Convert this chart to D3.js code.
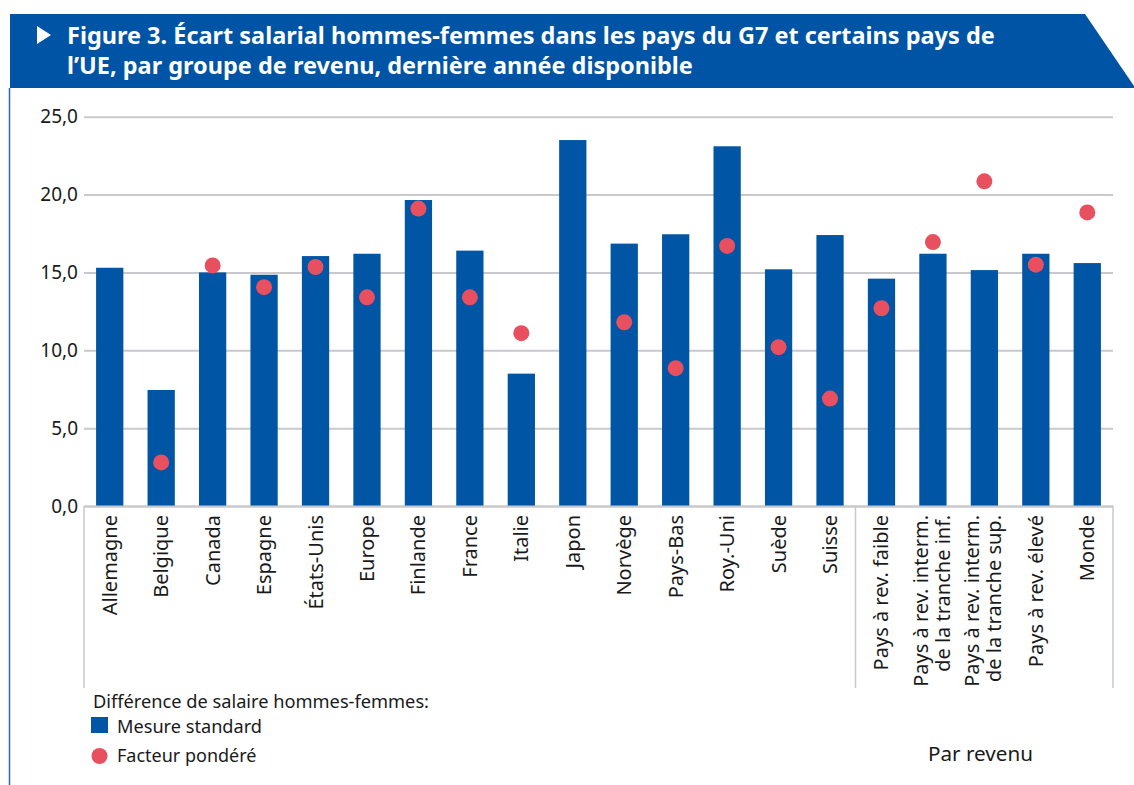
<!DOCTYPE html>
<html><head><meta charset="utf-8">
<script src="https://cdn.jsdelivr.net/npm/d3@7"></script>
<style>body{margin:0;background:#fff;}svg{display:block;font-family:"Noto Sans",sans-serif;}</style>
</head><body><svg id="c" width="1134" height="785"></svg>
<script>
const categories = ["Allemagne","Belgique","Canada","Espagne","États-Unis","Europe","Finlande","France","Italie","Japon","Norvège","Pays-Bas","Roy.-Uni","Suède","Suisse","Pays à rev. faible","Pays à rev. interm.|de la tranche inf.","Pays à rev. interm.|de la tranche sup.","Pays à rev. élevé","Monde"];
const standard = [15.3,7.45,15.0,14.85,16.05,16.2,19.65,16.4,8.5,23.5,16.85,17.45,23.1,15.2,17.4,14.6,16.2,15.15,16.2,15.6];
const weighted = [null,2.8,15.45,14.05,15.35,13.4,19.1,13.4,11.1,null,11.8,8.85,16.7,10.2,6.9,12.7,16.95,20.85,15.5,18.85];
const yTicks = [0,5,10,15,20,25];
const titleLines = ["Figure 3. Écart salarial hommes-femmes dans les pays du G7 et certains pays de","l’UE, par groupe de revenu, dernière année disponible"];
const legendTitle = "Différence de salaire hommes-femmes:";
const seriesNames = ["Mesure standard","Facteur pondéré"];
const groupLabel = "Par revenu";

const BLUE = "#0055a5", RED = "#e84f5f", GRID = "#c9c9cd", INK = "#1a1a1a";
const svg = d3.select("#c");

// header band
svg.append("path").attr("d","M10,14 L1085,14 L1134,86 L1134,88 L10,88 Z").attr("fill","#0054a5");
svg.append("path").attr("d","M37,26 L51,35 L37,44 Z").attr("fill","#fff");
svg.append("line").attr("x1",9.5).attr("x2",9.5).attr("y1",88).attr("y2",785).attr("stroke","#2d63b0").attr("stroke-width",1.5);

function fit(t, w){ const n=t.node(); const fs=parseFloat(t.attr("font-size")); const cw=n.getComputedTextLength(); t.attr("font-size", fs*w/cw); }
function squeeze(t, w){ const cw=t.node().getComputedTextLength(); if (Math.abs(cw-w)>1) t.attr("textLength",w).attr("lengthAdjust","spacingAndGlyphs"); }
const t1 = svg.append("text").attr("x",67).attr("y",44).attr("fill","#fff").attr("font-weight","bold").attr("font-size",22).text(titleLines[0]);
fit(t1, 928);
svg.append("text").attr("x",67).attr("y",74).attr("fill","#fff").attr("font-weight","bold").attr("font-size",t1.attr("font-size")).text(titleLines[1]);

const x = d3.scaleBand().domain(categories).range([84,1113]).paddingInner(0.47).paddingOuter(0.235);
const y = d3.scaleLinear().domain([0,25]).range([506,116.7]);

// grid
const fmt = d => d3.format(".1f")(d).replace(".",",");
const ya = svg.append("g").attr("transform","translate(84,0)")
  .call(d3.axisLeft(y).tickValues(yTicks).tickSize(-1029).tickFormat(fmt).tickPadding(6));
ya.select(".domain").remove();
ya.selectAll(".tick line").attr("stroke",GRID).attr("stroke-width",2);
ya.selectAll(".tick text").attr("font-size",19).attr("fill",INK).attr("font-family","Noto Sans");

// bars
svg.append("g").selectAll("rect").data(categories).join("rect")
  .attr("x",d=>x(d)).attr("width",x.bandwidth())
  .attr("y",(d,i)=>y(standard[i])).attr("height",(d,i)=>y(0)-y(standard[i]))
  .attr("fill",BLUE);

// x axis
const xa = svg.append("g").attr("transform","translate(0,506)").call(d3.axisBottom(x).tickSize(0).tickFormat(""));
xa.select(".domain").attr("stroke",GRID).attr("stroke-width",2);
[84,855.5,1113].forEach(px=>svg.append("line").attr("x1",px).attr("x2",px).attr("y1",506).attr("y2",688).attr("stroke",GRID).attr("stroke-width",1.5));

// x labels
categories.forEach(c=>{
  const lines = c.split("|");
  const cx = x(c)+x.bandwidth()/2;
  lines.forEach((ln,j)=>{
    const off = lines.length===1 ? 0 : (j===0 ? -12 : 10);
    svg.append("text").attr("transform",`translate(${cx+off+7},515) rotate(-90)`)
      .attr("text-anchor","end").attr("font-size",20).attr("fill",INK).text(ln);
  });
});

// dots
svg.append("g").selectAll("circle").data(categories.filter((c,i)=>weighted[i]!=null)).join("circle")
  .attr("cx",d=>x(d)+x.bandwidth()/2).attr("cy",d=>y(weighted[categories.indexOf(d)])).attr("r",8).attr("fill",RED);

// legend
const l0 = svg.append("text").attr("x",93).attr("y",708).attr("font-size",18).attr("fill",INK).text(legendTitle); squeeze(l0,336);
svg.append("rect").attr("x",91).attr("y",717).attr("width",17).attr("height",16).attr("fill",BLUE);
const l1 = svg.append("text").attr("x",117).attr("y",733).attr("font-size",18).attr("fill",INK).text(seriesNames[0]); squeeze(l1,145);
svg.append("circle").attr("cx",99.5).attr("cy",756).attr("r",8).attr("fill",RED);
const l2 = svg.append("text").attr("x",117).attr("y",762).attr("font-size",18).attr("fill",INK).text(seriesNames[1]); squeeze(l2,140);
const g0 = svg.append("text").attr("x",928).attr("y",761).attr("font-size",20).attr("fill",INK).text(groupLabel); squeeze(g0,105);
</script></body></html>
